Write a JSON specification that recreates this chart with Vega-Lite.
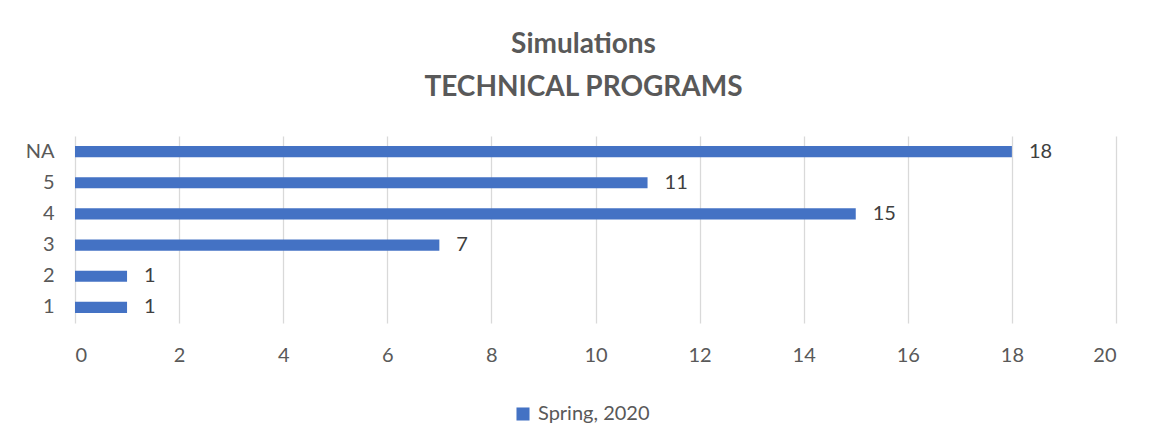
{
  "$schema": "https://vega.github.io/schema/vega-lite/v6.json",
  "width": 1041,
  "height": 187,
  "autosize": {"type": "none"},
  "padding": {"left": 75, "top": 136, "right": 37, "bottom": 121},
  "background": "white",
  "config": {
    "font": "Lato",
    "view": {"stroke": null},
    "axis": {"labelFont": "Lato", "labelFontSize": 20, "labelColor": "#595959", "gridColor": "#D9D9D9", "gridWidth": 1.3, "domain": false, "ticks": false}
  },
  "title": {
    "text": ["Simulations", "TECHNICAL PROGRAMS"],
    "fontSize": 28,
    "fontWeight": "bold",
    "color": "#595959",
    "lineHeight": 43,
    "anchor": "middle",
    "dx": -12,
    "offset": 34
  },
  "data": {
    "values": [
      {"rating": "NA", "count": 18, "series": "Spring, 2020"},
      {"rating": "5", "count": 11, "series": "Spring, 2020"},
      {"rating": "4", "count": 15, "series": "Spring, 2020"},
      {"rating": "3", "count": 7, "series": "Spring, 2020"},
      {"rating": "2", "count": 1, "series": "Spring, 2020"},
      {"rating": "1", "count": 1, "series": "Spring, 2020"}
    ]
  },
  "encoding": {
    "y": {
      "field": "rating",
      "type": "nominal",
      "sort": ["NA", "5", "4", "3", "2", "1"],
      "scale": {"paddingInner": 0.64, "paddingOuter": 0.32},
      "axis": {"title": null, "grid": false, "labelPadding": 21}
    },
    "x": {
      "field": "count",
      "type": "quantitative",
      "scale": {"domain": [0, 20], "nice": false},
      "axis": {"title": null, "values": [0, 2, 4, 6, 8, 10, 12, 14, 16, 18, 20], "labelPadding": 22, "grid": true}
    }
  },
  "layer": [
    {
      "mark": {"type": "bar"},
      "encoding": {
        "color": {
          "field": "series",
          "type": "nominal",
          "scale": {"range": ["#4472C4"]},
          "legend": {
            "title": null,
            "orient": "none",
            "legendX": 438,
            "legendY": 268,
            "symbolType": "square",
            "symbolSize": 170,
            "symbolStrokeWidth": 0,
            "labelFontSize": 20,
            "labelColor": "#595959",
            "labelFont": "Lato",
            "labelOffset": 5
          }
        }
      }
    },
    {
      "mark": {"type": "text", "align": "left", "baseline": "middle", "dx": 17, "fontSize": 20, "color": "#404040", "font": "Lato"},
      "encoding": {"text": {"field": "count", "type": "quantitative"}}
    }
  ]
}
